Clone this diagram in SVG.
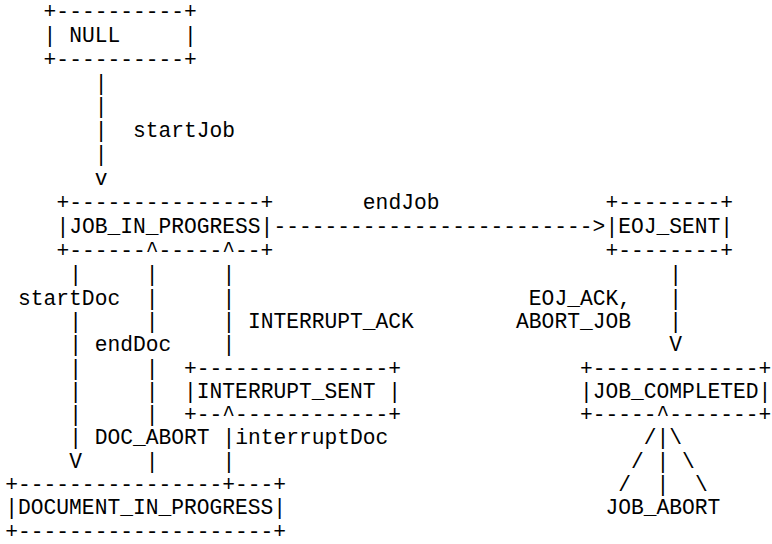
<svg xmlns="http://www.w3.org/2000/svg" width="772" height="544" viewBox="0 0 772 544" xml:space="preserve">
<style>
text { font-family: "Liberation Mono", "Courier New", monospace; font-size: 21.28px; fill: #000; white-space: pre; }
</style>
<rect x="0" y="0" width="772" height="544" fill="#fff"/>
<g id="node-null">
<text x="43.61" y="17.8">+----------+</text>
<text x="43.61" y="41.7">| NULL     |</text>
<text x="43.61" y="65.6">+----------+</text>
</g>
<g id="node-job-in-progress">
<text x="56.38" y="209">+---------------+</text>
<text x="56.38" y="232.9">|JOB_IN_PROGRESS|</text>
<text x="56.38" y="256.8">+------^-----^--+</text>
</g>
<g id="node-eoj-sent">
<text x="605.49" y="209">+--------+</text>
<text x="605.49" y="232.9">|EOJ_SENT|</text>
<text x="605.49" y="256.8">+--------+</text>
</g>
<g id="node-interrupt-sent">
<text x="184.08" y="374.5">+---------------+</text>
<text x="184.08" y="397.8">|INTERRUPT_SENT |</text>
<text x="184.08" y="421.1">+--^------------+</text>
</g>
<g id="node-job-completed">
<text x="579.95" y="374.5">+-------------+</text>
<text x="579.95" y="397.8">|JOB_COMPLETED|</text>
<text x="579.95" y="421.1">+-----^-------+</text>
</g>
<g id="node-document-in-progress">
<text x="5.3" y="491">+----------------+---+</text>
<text x="5.3" y="514.3">|DOCUMENT_IN_PROGRESS|</text>
<text x="5.3" y="537.6">+--------------------+</text>
</g>
<g id="connectors">
<!-- NULL -> JOB_IN_PROGRESS (startJob) -->
<text x="94.69" y="89.5">|</text>
<text x="94.69" y="113.4">|</text>
<text x="94.69" y="137.3">|</text>
<text x="133" y="137.3">startJob</text>
<text x="94.69" y="161.2">|</text>
<text x="94.69" y="185.1">v</text>
<!-- JOB_IN_PROGRESS -> EOJ_SENT (endJob) -->
<text x="362.86" y="209">endJob</text>
<text x="273.47" y="232.9">-------------------------&gt;</text>
<!-- startDoc, col 5 -->
<text x="69.15" y="280.7">|</text>
<text x="18.07" y="304.6">startDoc</text>
<text x="69.15" y="327.9">|</text>
<text x="69.15" y="351.2">|</text>
<text x="69.15" y="374.5">|</text>
<text x="69.15" y="397.8">|</text>
<text x="69.15" y="421.1">|</text>
<text x="69.15" y="444.4">|</text>
<text x="69.15" y="467.7">V</text>
<!-- endDoc / DOC_ABORT, col 11 -->
<text x="145.77" y="280.7">|</text>
<text x="145.77" y="304.6">|</text>
<text x="145.77" y="327.9">|</text>
<text x="94.69" y="351.2">endDoc</text>
<text x="145.77" y="374.5">|</text>
<text x="145.77" y="397.8">|</text>
<text x="145.77" y="421.1">|</text>
<text x="94.69" y="444.4">DOC_ABORT</text>
<text x="145.77" y="467.7">|</text>
<!-- INTERRUPT_ACK, col 17 upper -->
<text x="222.39" y="280.7">|</text>
<text x="222.39" y="304.6">|</text>
<text x="222.39" y="327.9">|</text>
<text x="247.93" y="327.9">INTERRUPT_ACK</text>
<text x="222.39" y="351.2">|</text>
<!-- interruptDoc, col 17 lower -->
<text x="222.39" y="444.4">|</text>
<text x="235.16" y="444.4">interruptDoc</text>
<text x="222.39" y="467.7">|</text>
<!-- EOJ_SENT -> JOB_COMPLETED -->
<text x="669.34" y="280.7">|</text>
<text x="528.87" y="304.6">EOJ_ACK,</text>
<text x="669.34" y="304.6">|</text>
<text x="516.1" y="327.9">ABORT_JOB</text>
<text x="669.34" y="327.9">|</text>
<text x="669.34" y="351.2">V</text>
<!-- JOB_ABORT -> JOB_COMPLETED -->
<text x="643.8" y="444.4">/</text>
<text x="656.57" y="444.4">|</text>
<text x="669.34" y="444.4">\</text>
<text x="631.03" y="467.7">/</text>
<text x="656.57" y="467.7">|</text>
<text x="682.11" y="467.7">\</text>
<text x="618.26" y="491">/</text>
<text x="656.57" y="491">|</text>
<text x="694.88" y="491">\</text>
<text x="605.49" y="514.3">JOB_ABORT</text>
</g>
</svg>
